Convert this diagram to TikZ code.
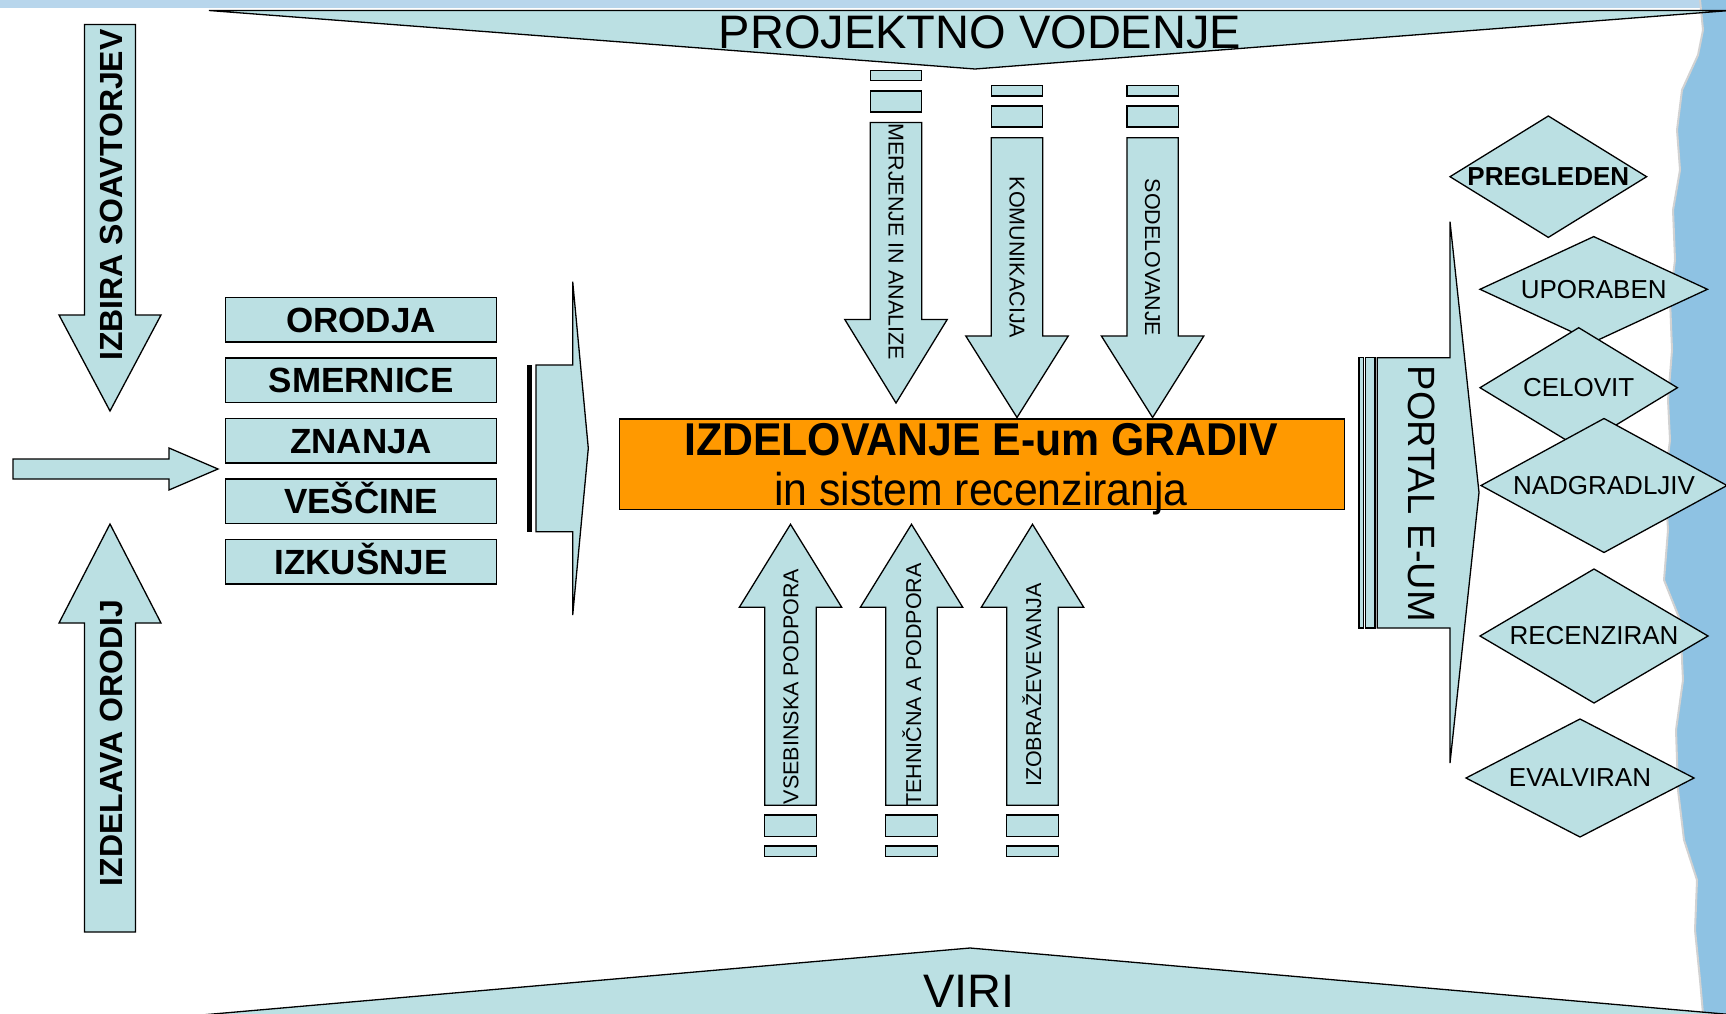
\documentclass[tikz,border=0pt]{standalone}
\usepackage{fontspec}
\setmainfont{Liberation Sans}
\definecolor{lb}{HTML}{BBE0E3}
\definecolor{org}{HTML}{FF9900}
\definecolor{sky}{HTML}{8EC2E3}
\definecolor{skytop}{HTML}{B8D6EC}
\newcommand\vbarrow[6]{%
  \draw[shp] ({#1-#5},#2) -- ({#1+#5},#2) -- ({#1+#5},#3) -- ({#1+#6},#3) -- (#1,#4) -- ({#1-#6},#3) -- ({#1-#5},#3) -- cycle;}
\newcommand\dmd[7]{%
  \draw[shp] ({#1-#3},#2) -- (#1,{#2-#4}) -- ({#1+#3},#2) -- (#1,{#2+#4}) -- cycle;
  \node[lbl,font=#7] (#5) at (#1,#2) {#6};}
\begin{document}
\begin{tikzpicture}[x=1pt,y=-1pt,
  shp/.style={fill=lb,draw=black,line width=1.3pt,line join=miter},
  lbl/.style={inner sep=0pt,text=black},
  boxn/.style={shp,minimum width=270.8pt,minimum height=44.5pt,inner sep=0pt,
     text height=25pt,text depth=0pt,font=\bfseries\fontsize{35}{38}\selectfont},
  armtxt/.style={lbl,font=\fontsize{21.5}{24}\selectfont},
  sidetxt/.style={lbl,font=\bfseries\fontsize{32}{34}\selectfont}]
\useasboundingbox (0,0) rectangle (1726,1014);
% background
\fill[white] (0,0) rectangle (1726,1014);
\fill[skytop] (0,0) rectangle (1726,8);
\fill[sky] (1726,0) -- (1700,0) -- (1703,30) -- (1698,55) -- (1682,90) -- (1677,130) -- (1680,170) -- (1673,210) -- (1675,260) -- (1670,300) -- (1672,350) -- (1668,400) -- (1670,440) -- (1665,480) -- (1668,530) -- (1664,580) -- (1680,620) -- (1683,680) -- (1676,730) -- (1678,790) -- (1684,840) -- (1697,880) -- (1695,930) -- (1700,980) -- (1703,1014) -- (1726,1014) -- cycle;
\draw[gray!35,line width=2pt] (1700,0) -- (1703,30) -- (1698,55) -- (1682,90) -- (1677,130) -- (1680,170) -- (1673,210) -- (1675,260) -- (1670,300) -- (1672,350) -- (1668,400) -- (1670,440) -- (1665,480) -- (1668,530) -- (1664,580) -- (1680,620) -- (1683,680) -- (1676,730) -- (1678,790) -- (1684,840) -- (1697,880) -- (1695,930) -- (1700,980) -- (1703,1014);

% top banner
\draw[shp] (209,10.5) -- (1730,10.5) -- (975,69) -- cycle;
\node[lbl,anchor=base,font=\fontsize{47}{50}\selectfont] (pv) at (980,48.5) {PROJEKTNO VODENJE};
% bottom banner
\draw[shp] (190,1016) -- (970,948) -- (1730,1014.5) -- (1730,1030) -- (190,1030) -- cycle;
\node[lbl,anchor=base,font=\fontsize{47}{50}\selectfont] (viri) at (969,1007) {VIRI};

% left arrows
\vbarrow{110}{24.5}{315}{411}{25.5}{51}
\node[sidetxt,rotate=90] (izb) at (111,195) {IZBIRA SOAVTORJEV};
\vbarrow{110}{932}{623}{524}{25.5}{51}
\node[sidetxt,rotate=90] (izd) at (111,743) {IZDELAVA ORODIJ};
\draw[shp] (13,459) -- (169,459) -- (169,448) -- (218,469) -- (169,490) -- (169,479) -- (13,479) -- cycle;
\coordinate (htip) at (218,469);

% five boxes
\node[boxn] (orodja) at (361.1,319.75) {ORODJA};
\node[boxn] (smer) at (361.1,380.25) {SMERNICE};
\node[boxn] (znanja) at (361.1,440.75) {ZNANJA};
\node[boxn] (vesc) at (361.1,501.25) {VEŠČINE};
\node[boxn] (izk) at (361.1,561.75) {IZKUŠNJE};

% striped arrow
\fill[black] (526.7,365) rectangle (532.3,531.7);
\draw[shp] (536,365) -- (572.7,365) -- (572.7,281.7) -- (588.3,448.3) -- (572.7,615) -- (572.7,531.7) -- (536,531.7) -- cycle;
\coordinate (stip) at (588.3,448.3);

% main orange box
\node[draw=black,fill=org,line width=1.3pt,minimum width=725.4pt,minimum height=90.3pt,inner sep=0pt,anchor=north west] (mainbox) at (618.6,418.3) {};
\node[lbl,anchor=base,font=\bfseries\fontsize{46}{48}\selectfont] (t1) at (981,455) {\scalebox{0.93}[1]{IZDELOVANJE E-um GRADIV}};
\node[lbl,anchor=base,font=\fontsize{46}{48}\selectfont] (t2) at (981,505) {\scalebox{0.93}[1]{in sistem recenziranja}};

% top down arrows
\draw[shp] (870.3,70.5) rectangle (921.7,80.5);
\draw[shp] (870.3,91) rectangle (921.7,112);
\vbarrow{896}{122.5}{319.5}{403}{25.7}{51.2}
\node[armtxt,rotate=-90] (mer) at (896,241.5) {MERJENJE IN ANALIZE};
\draw[shp] (991.3,85.5) rectangle (1042.7,96);
\draw[shp] (991.3,106) rectangle (1042.7,127);
\vbarrow{1017}{137.7}{336}{417.5}{25.7}{51.2}
\node[armtxt,rotate=-90] (kom) at (1017,257.5) {KOMUNIKACIJA};
\draw[shp] (1126.9,85.5) rectangle (1178.3,96);
\draw[shp] (1126.9,106) rectangle (1178.3,127);
\vbarrow{1152.6}{137.7}{336}{417.5}{25.7}{51.2}
\node[armtxt,rotate=-90] (sod) at (1152.6,257.5) {SODELOVANJE};

% bottom up arrows
\vbarrow{790.5}{805.3}{607.3}{524.3}{25.7}{51.2}
\draw[shp] (764.8,815) rectangle (816.2,836.5);
\draw[shp] (764.8,846) rectangle (816.2,856.5);
\node[armtxt,rotate=90] (vseb) at (791,686.5) {VSEBINSKA PODPORA};
\vbarrow{911.5}{805.3}{607.3}{524.3}{25.7}{51.2}
\draw[shp] (885.8,815) rectangle (937.2,836.5);
\draw[shp] (885.8,846) rectangle (937.2,856.5);
\node[armtxt,rotate=90] (teh) at (911.7,685) {TEHNIČNA A PODPORA};
\vbarrow{1032.5}{805.3}{607.3}{524.3}{25.7}{51.2}
\draw[shp] (1006.8,815) rectangle (1058.2,836.5);
\draw[shp] (1006.8,846) rectangle (1058.2,856.5);
\node[armtxt,rotate=90] (izo) at (1031.7,685) {IZOBRAŽEVEVANJA};

% portal arrow
\draw[shp] (1359,357.7) rectangle (1363.3,628);
\draw[shp] (1365.7,357.7) rectangle (1375,628);
\draw[shp] (1377.3,357.7) -- (1450,357.7) -- (1450,221.7) -- (1479,492.5) -- (1450,763) -- (1450,628) -- (1377.3,628) -- cycle;
\node[lbl,rotate=-90,font=\fontsize{38}{40}\selectfont] (portal) at (1422,494) {PORTAL E-UM};

% diamonds
\dmd{1548.3}{176.7}{98.3}{60.7}{preg}{PREGLEDEN}{\bfseries\fontsize{26}{28}\selectfont}
\dmd{1593.7}{289.3}{113.7}{52.7}{upor}{UPORABEN}{\fontsize{26}{28}\selectfont}
\dmd{1578.7}{387.7}{98.7}{60}{celo}{CELOVIT}{\fontsize{26}{28}\selectfont}
\dmd{1604}{485.5}{123}{67}{nadg}{NADGRADLJIV}{\fontsize{26}{28}\selectfont}
\dmd{1594}{636}{114}{67}{rec}{RECENZIRAN}{\fontsize{26}{28}\selectfont}
\dmd{1580}{778}{114}{59}{eval}{EVALVIRAN}{\fontsize{26}{28}\selectfont}
\end{tikzpicture}
\end{document}
